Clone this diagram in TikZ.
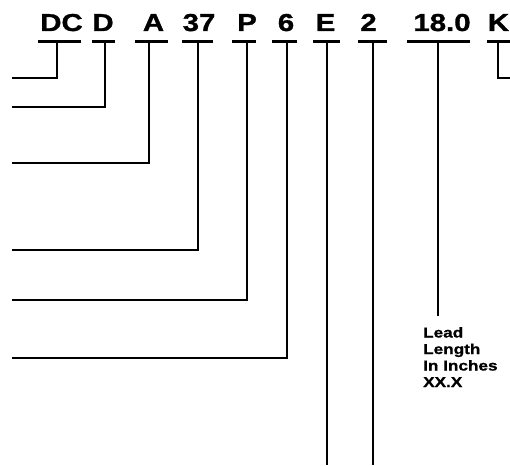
\documentclass[tikz,border=0pt]{standalone}
\usepackage{fontspec}
\setmainfont{Liberation Sans}
\newfontfamily\heavy[FakeBold=1.2,FakeStretch=1.2]{Liberation Sans Bold}
\newfontfamily\heavynote[FakeBold=1.0,FakeStretch=1.2]{Liberation Sans Bold}
\begin{document}
\begin{tikzpicture}[x=1pt,y=-1pt,
  code/.style={font=\heavy\fontsize{24.5}{26}\selectfont, anchor=base, inner sep=0pt},
  uline/.style={line width=3pt},
  lead/.style={line width=2.6pt},
  note/.style={font=\heavynote\fontsize{14.3}{16.5}\selectfont, align=left, anchor=base west, inner sep=0pt}]
\useasboundingbox (0,0) rectangle (510,465);
% labels
\node[code] (dc) at (61.5,31) {DC};
\node[code] (d) at (103,31) {D};
\node[code] (a) at (153.5,31) {A};
\node[code] (n37) at (199,31) {37};
\node[code] (p) at (247,31) {P};
\node[code] (n6) at (286,31) {6};
\node[code] (e) at (325.5,31) {E};
\node[code] (n2) at (368.5,31) {2};
\node[code] (len) at (442,31) {18.0};
\node[code] (k) at (498.5,31) {K};
% underlines
\draw[uline] (38,42) -- (81,42);
\draw[uline] (92,42) -- (115,42);
\draw[uline] (135,42) -- (168,42);
\draw[uline] (182,42) -- (213,42);
\draw[uline] (232,42) -- (256,42);
\draw[uline] (272,42) -- (297,42);
\draw[uline] (313,42) -- (340,42);
\draw[uline] (358,42) -- (387,42);
\draw[uline] (407,42) -- (470,42);
\draw[uline] (487,42) -- (510,42);
% connector anchors
\coordinate (tdc) at (57,42);   \coordinate (edc) at (12,78);
\coordinate (td) at (105,42);   \coordinate (ed) at (12,107);
\coordinate (ta) at (149,42);   \coordinate (ea) at (12,163);
\coordinate (t37) at (198,42);  \coordinate (e37) at (12,250);
\coordinate (tp) at (247,42);   \coordinate (ep) at (12,300);
\coordinate (t6) at (287,42);   \coordinate (e6) at (12,358);
\coordinate (te) at (327,42);   \coordinate (ee) at (327,465);
\coordinate (t2) at (373,42);   \coordinate (e2) at (373,465);
\coordinate (tlen) at (438,42); \coordinate (elen) at (438,316);
\coordinate (tk) at (498,42);   \coordinate (ek) at (510,78);
% connectors
\draw[lead] (tdc) |- (edc);
\draw[lead] (td) |- (ed);
\draw[lead] (ta) |- (ea);
\draw[lead] (t37) |- (e37);
\draw[lead] (tp) |- (ep);
\draw[lead] (t6) |- (e6);
\draw[lead] (te) -- (ee);
\draw[lead] (t2) -- (e2);
\draw[lead] (tlen) -- (elen);
\draw[lead] (tk) |- (ek);
% note
\node[note] (leadnote) at (423,387) {Lead\\Length\\In Inches\\XX.X};
\end{tikzpicture}
\end{document}
